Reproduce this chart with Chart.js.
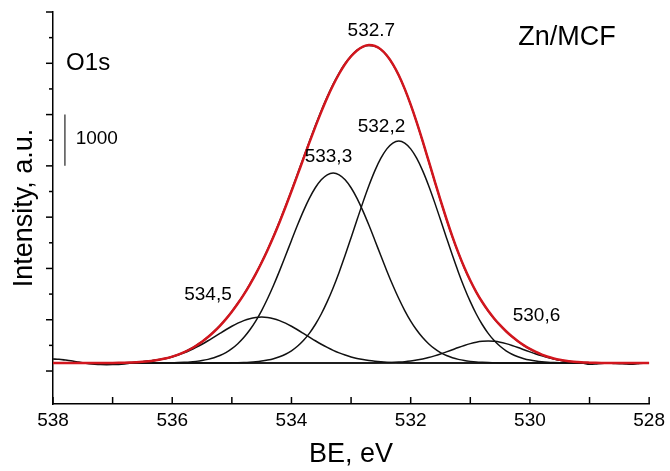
<!DOCTYPE html>
<html>
<head>
<meta charset="utf-8">
<script src="https://cdn.jsdelivr.net/npm/chart.js@4.4.0/dist/chart.umd.min.js"></script>
<style>
  html, body { margin: 0; padding: 0; background: #fff; }
  #wrap { width: 670px; height: 471px; }
</style>
</head>
<body>
<div id="wrap"><canvas id="xps" width="670" height="471"></canvas></div>
<script>
// binding energy grid, eV
const be = [
  538.0, 537.9, 537.8, 537.7, 537.6, 537.5, 537.4, 537.3, 537.2, 537.1,
  537.0, 536.9, 536.8, 536.7, 536.6, 536.5, 536.4, 536.3, 536.2, 536.1,
  536.0, 535.9, 535.8, 535.7, 535.6, 535.5, 535.4, 535.3, 535.2, 535.1,
  535.0, 534.9, 534.8, 534.7, 534.6, 534.5, 534.4, 534.3, 534.2, 534.1,
  534.0, 533.9, 533.8, 533.7, 533.6, 533.5, 533.4, 533.3, 533.2, 533.1,
  533.0, 532.9, 532.8, 532.7, 532.6, 532.5, 532.4, 532.3, 532.2, 532.1,
  532.0, 531.9, 531.8, 531.7, 531.6, 531.5, 531.4, 531.3, 531.2, 531.1,
  531.0, 530.9, 530.8, 530.7, 530.6, 530.5, 530.4, 530.3, 530.2, 530.1,
  530.0, 529.9, 529.8, 529.7, 529.6, 529.5, 529.4, 529.3, 529.2, 529.1,
  529.0, 528.9, 528.8, 528.7, 528.6, 528.5, 528.4, 528.3, 528.2, 528.1,
  528.0
];

// measured spectrum
const measured = [
  235, 228, 215, 200, 180, 160, 145, 135, 128, 125,
  126, 130, 140, 155, 168, 180, 193, 207, 228, 250,
  283, 322, 368, 428, 496, 572, 665, 770, 886, 1015,
  1160, 1320, 1495, 1690, 1895, 2125, 2370, 2630, 2915, 3210,
  3520, 3835, 4155, 4470, 4780, 5075, 5345, 5595, 5810, 5995,
  6140, 6255, 6320, 6350, 6330, 6268, 6150, 5980, 5765, 5500,
  5190, 4850, 4480, 4095, 3710, 3325, 2960, 2615, 2300, 2012,
  1760, 1538, 1342, 1170, 1020, 890, 772, 668, 578, 497,
  428, 368, 318, 275, 240, 210, 188, 170, 165, 150,
  132, 138, 150, 155, 150, 145, 138, 134, 142, 152,
  155
];

// fitted envelope (red)
const envelope = [
  155, 155, 155, 155, 155, 155, 155, 155, 156, 157,
  158, 160, 163, 167, 172, 180, 191, 206, 225, 249,
  281, 320, 367, 424, 493, 571, 662, 766, 882, 1012,
  1157, 1316, 1490, 1681, 1888, 2115, 2360, 2622, 2902, 3197,
  3504, 3819, 4137, 4453, 4760, 5053, 5328, 5576, 5796, 5985,
  6137, 6251, 6325, 6355, 6337, 6271, 6153, 5985, 5768, 5501,
  5194, 4853, 4485, 4101, 3713, 3331, 2964, 2620, 2303, 2017,
  1764, 1540, 1345, 1174, 1025, 893, 776, 672, 581, 500,
  431, 371, 320, 278, 245, 219, 200, 185, 175, 167,
  163, 160, 158, 157, 156, 155, 155, 155, 155, 155,
  155
];

// components
const peak5345 = [
  155, 155, 155, 155, 155, 155, 155, 155, 156, 157,
  158, 160, 163, 167, 172, 180, 191, 205, 223, 246,
  275, 311, 353, 403, 460, 522, 590, 662, 734, 805,
  873, 933, 983, 1021, 1044, 1052, 1044, 1021, 983, 933,
  873, 805, 734, 662, 590, 522, 460, 403, 353, 311,
  275, 246, 223, 205, 191, 180, 172, 167, 163, 160,
  158, 157, 156, 155, 155, 155, 155, 155, 155, 155,
  155, 155, 155, 155, 155, 155, 155, 155, 155, 155,
  155, 155, 155, 155, 155, 155, 155, 155, 155, 155,
  155, 155, 155, 155, 155, 155, 155, 155, 155, 155,
  155
];
const peak5333 = [
  155, 155, 155, 155, 155, 155, 155, 155, 155, 155,
  155, 155, 155, 155, 155, 155, 155, 156, 157, 158,
  161, 164, 169, 176, 188, 204, 227, 259, 302, 360,
  435, 532, 652, 799, 974, 1179, 1413, 1672, 1952, 2247,
  2546, 2841, 3118, 3366, 3573, 3729, 3826, 3859, 3826, 3729,
  3573, 3366, 3118, 2841, 2546, 2247, 1952, 1672, 1413, 1179,
  974, 799, 652, 532, 435, 360, 302, 259, 227, 204,
  188, 176, 169, 164, 161, 158, 157, 156, 155, 155,
  155, 155, 155, 155, 155, 155, 155, 155, 155, 155,
  155, 155, 155, 155, 155, 155, 155, 155, 155, 155,
  155
];
const peak5322 = [
  155, 155, 155, 155, 155, 155, 155, 155, 155, 155,
  155, 155, 155, 155, 155, 155, 155, 155, 155, 155,
  155, 155, 155, 155, 155, 155, 155, 155, 156, 157,
  159, 161, 165, 171, 180, 194, 213, 239, 277, 327,
  395, 483, 595, 735, 907, 1112, 1352, 1624, 1927, 2255,
  2599, 2949, 3293, 3617, 3907, 4149, 4331, 4444, 4483, 4444,
  4331, 4149, 3907, 3617, 3293, 2949, 2599, 2255, 1927, 1624,
  1352, 1112, 907, 735, 595, 483, 395, 327, 277, 239,
  213, 194, 180, 171, 165, 161, 159, 157, 156, 155,
  155, 155, 155, 155, 155, 155, 155, 155, 155, 155,
  155
];
const peak5306 = [
  155, 155, 155, 155, 155, 155, 155, 155, 155, 155,
  155, 155, 155, 155, 155, 155, 155, 155, 155, 155,
  155, 155, 155, 155, 155, 155, 155, 155, 155, 155,
  155, 155, 155, 155, 155, 155, 155, 155, 155, 155,
  155, 155, 155, 155, 155, 155, 155, 155, 155, 155,
  155, 155, 156, 157, 158, 160, 163, 167, 174, 183,
  196, 213, 235, 262, 295, 332, 373, 416, 459, 499,
  534, 562, 579, 585, 579, 562, 534, 499, 459, 416,
  373, 332, 295, 262, 235, 213, 196, 183, 174, 167,
  163, 160, 158, 157, 156, 155, 155, 155, 155, 155,
  155
];

const baseX = [538, 528];
const baseY = [155, 155];

// 1000-count scale bar
const barX = [537.8, 537.8];
const barY = [4000, 5000];

// y tick marks (unlabelled), minor every 500
const yTicks = [0, 500, 1000, 1500, 2000, 2500, 3000, 3500, 4000, 4500, 5000, 5500, 6000, 6500, 7000];
const yMajorStep = 1000;

// text notes, anchored in data coordinates
const noteText = ['O1s', '1000', 'Zn/MCF', '532.7', '533,3', '532,2', '534,5', '530,6'];
const noteX = [537.78, 537.62, 529.38, 532.66, 533.38, 532.49, 535.40, 529.89];
const noteY = [5990, 4520, 6510, 6630, 4170, 4760, 1480, 1070];
const noteSize = [24, 19, 27, 19, 19, 19, 19, 19];
const noteAlign = ['left', 'left', 'center', 'center', 'center', 'center', 'center', 'center'];

const FONT = 'Arial, "Liberation Sans", Helvetica, sans-serif';
Chart.defaults.font.family = FONT;
Chart.defaults.color = '#000';

const pts = (xs, ys) => xs.map((v, i) => ({ x: v, y: ys[i] }));

const xpsDecor = {
    id: 'xpsDecor',
    afterDraw(chart) {
        const { ctx, scales: { x, y } } = chart;
        ctx.save();
        ctx.strokeStyle = '#000';
        ctx.lineWidth = 1.5;
        // y ticks point out of the frame
        y.ticks.forEach(t => {
            const py = y.getPixelForValue(t.value);
            const len = t.value % yMajorStep === 0 ? 7 : 4;
            ctx.beginPath();
            ctx.moveTo(y.right - len, py);
            ctx.lineTo(y.right, py);
            ctx.stroke();
        });
        // x ticks point into the plot
        x.ticks.forEach(t => {
            const px = x.getPixelForValue(t.value);
            ctx.beginPath();
            ctx.moveTo(px, x.top);
            ctx.lineTo(px, x.top - 7);
            ctx.stroke();
        });
        ctx.fillStyle = '#000';
        ctx.textBaseline = 'middle';
        noteText.forEach((txt, i) => {
            ctx.font = noteSize[i] + 'px ' + FONT;
            ctx.textAlign = noteAlign[i];
            ctx.fillText(txt, x.getPixelForValue(noteX[i]), y.getPixelForValue(noteY[i]));
        });
        ctx.restore();
    }
};

const lineStyle = (color, width) => ({
    borderColor: color,
    borderWidth: width,
    pointRadius: 0,
    fill: false,
    cubicInterpolationMode: 'monotone',
});

new Chart(document.getElementById('xps').getContext('2d'), {
    type: 'line',
    data: {
        datasets: [
            { label: 'Envelope', data: pts(be, envelope), ...lineStyle('#d2161e', 2.5) },
            { label: 'Measured', data: pts(be, measured), ...lineStyle('#111', 1.6) },
            { label: '534,5', data: pts(be, peak5345), ...lineStyle('#111', 1.5) },
            { label: '533,3', data: pts(be, peak5333), ...lineStyle('#111', 1.5) },
            { label: '532,2', data: pts(be, peak5322), ...lineStyle('#111', 1.5) },
            { label: '530,6', data: pts(be, peak5306), ...lineStyle('#111', 1.5) },
            { label: 'Baseline', data: pts(baseX, baseY), ...lineStyle('#111', 1.5) },
            { label: 'Scale', data: pts(barX, barY), ...lineStyle('#222', 1.2) },
        ],
    },
    options: {
        responsive: false,
        animation: false,
        layout: { padding: { top: 12, right: 20, left: 0, bottom: 0 } },
        plugins: { legend: { display: false }, tooltip: { enabled: false } },
        scales: {
            x: {
                type: 'linear',
                reverse: true,
                min: 528,
                max: 538,
                ticks: {
                    stepSize: 1,
                    autoSkip: false,
                    maxRotation: 0,
                    padding: 5,
                    font: { size: 19 },
                    callback: v => (v % 2 === 0 ? String(v) : ''),
                },
                grid: { display: false, drawTicks: false },
                border: { color: '#000', width: 1.5 },
                title: { display: true, text: 'BE, eV', font: { size: 27 }, padding: { top: 0, bottom: 0 } },
                afterFit: s => { s.height = 67; },
            },
            y: {
                type: 'linear',
                min: -643,
                max: 7000,
                ticks: { display: false },
                afterBuildTicks: s => { s.ticks = yTicks.map(v => ({ value: v })); },
                grid: { display: false, drawTicks: false },
                border: { color: '#000', width: 1.5 },
                title: { display: true, text: 'Intensity, a.u.', font: { size: 27 }, padding: { top: 8, bottom: 0 } },
                afterFit: s => { s.width = 53; },
            },
        },
    },
    plugins: [xpsDecor],
});
</script>
</body>
</html>
